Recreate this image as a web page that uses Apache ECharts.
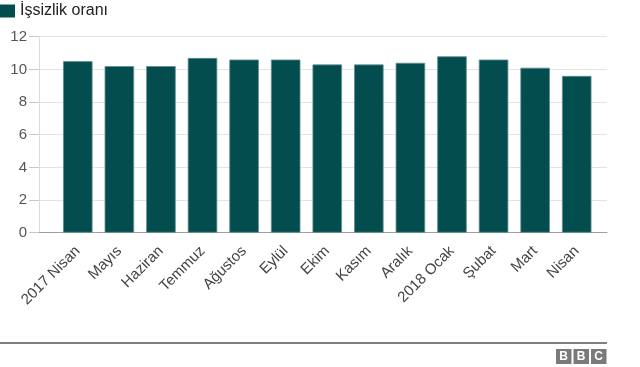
<!DOCTYPE html>
<html>
<head>
<meta charset="utf-8">
<script src="https://cdn.jsdelivr.net/npm/echarts@6/dist/echarts.min.js"></script>
<style>html,body{margin:0;padding:0;background:#fff}#c{width:640px;height:367px}</style>
</head>
<body>
<div id="c"></div>
<script>
const categories = ['2017 Nisan','Mayıs','Haziran','Temmuz','Ağustos','Eylül','Ekim','Kasım','Aralık','2018 Ocak','Şubat','Mart','Nisan'];
const values = [10.5,10.2,10.2,10.7,10.6,10.6,10.3,10.3,10.4,10.8,10.6,10.1,9.6];
const seriesName = 'İşsizlik oranı';
const yTicks = {min:0, max:12, interval:2};

const font = 'Liberation Sans, Arial, Helvetica, sans-serif';
const chart = echarts.init(document.getElementById('c'), null, {renderer:'canvas'});
const barColor = '#034d4e';
chart.setOption({
  animation:false,
  textStyle:{fontFamily:font},
  legend:{
    data:[seriesName], left:0, top:3, padding:0, icon:'rect', itemWidth:15, itemHeight:13, itemGap:5,
    itemStyle:{borderWidth:0, color:barColor},
    textStyle:{fontSize:16, color:'#222', fontFamily:font}
  },
  grid:[
    {left:39, right:33, top:36.7, bottom:134.3},
    {left:57, right:42.5, top:36.7, bottom:134.3}
  ],
  xAxis:[
    {type:'value', gridIndex:0, min:0, max:1, axisLabel:{show:false}, axisTick:{show:false}, splitLine:{show:false},
     axisLine:{show:true, onZero:false, lineStyle:{color:'#a0a0a0', width:1}}},
    {type:'category', gridIndex:1, data:categories, axisLine:{show:false}, axisTick:{show:false},
     axisLabel:{rotate:45, interval:0, fontSize:15, color:'#444', margin:16, fontFamily:font}}
  ],
  yAxis:[
    {type:'value', gridIndex:0, min:yTicks.min, max:yTicks.max, interval:yTicks.interval,
     axisLine:{show:true, lineStyle:{color:'#dcdcdc'}},
     axisTick:{show:true, length:10, lineStyle:{color:'#c8c8c8'}},
     axisLabel:{fontSize:15, color:'#555', margin:12, fontFamily:font},
     splitLine:{show:true, lineStyle:{color:'#e3e3e3'}}},
    {type:'value', gridIndex:1, min:yTicks.min, max:yTicks.max, show:false, splitLine:{show:false}}
  ],
  series:[{
    name:seriesName, type:'bar', xAxisIndex:1, yAxisIndex:1, data:values, barWidth:29.5,
    itemStyle:{color:barColor, borderColor:'#5e8f8f', borderWidth:0.8}
  }],
  graphic:[
    {type:'line', shape:{x1:0, y1:343, x2:607, y2:343}, style:{stroke:'#555', lineWidth:1.5}},
    {type:'rect', shape:{x:556, y:349, width:15.5, height:15}, style:{fill:'#7a7a7a'}},
    {type:'rect', shape:{x:573.5, y:349, width:15.5, height:15}, style:{fill:'#7a7a7a'}},
    {type:'rect', shape:{x:591, y:349, width:15.5, height:15}, style:{fill:'#7a7a7a'}},
    {type:'text', x:563.7, y:356.5, style:{text:'B', fill:'#fff', font:'bold 12px '+font, align:'center', verticalAlign:'middle'}},
    {type:'text', x:581.2, y:356.5, style:{text:'B', fill:'#fff', font:'bold 12px '+font, align:'center', verticalAlign:'middle'}},
    {type:'text', x:598.7, y:356.5, style:{text:'C', fill:'#fff', font:'bold 12px '+font, align:'center', verticalAlign:'middle'}}
  ]
});
</script>
</body>
</html>
